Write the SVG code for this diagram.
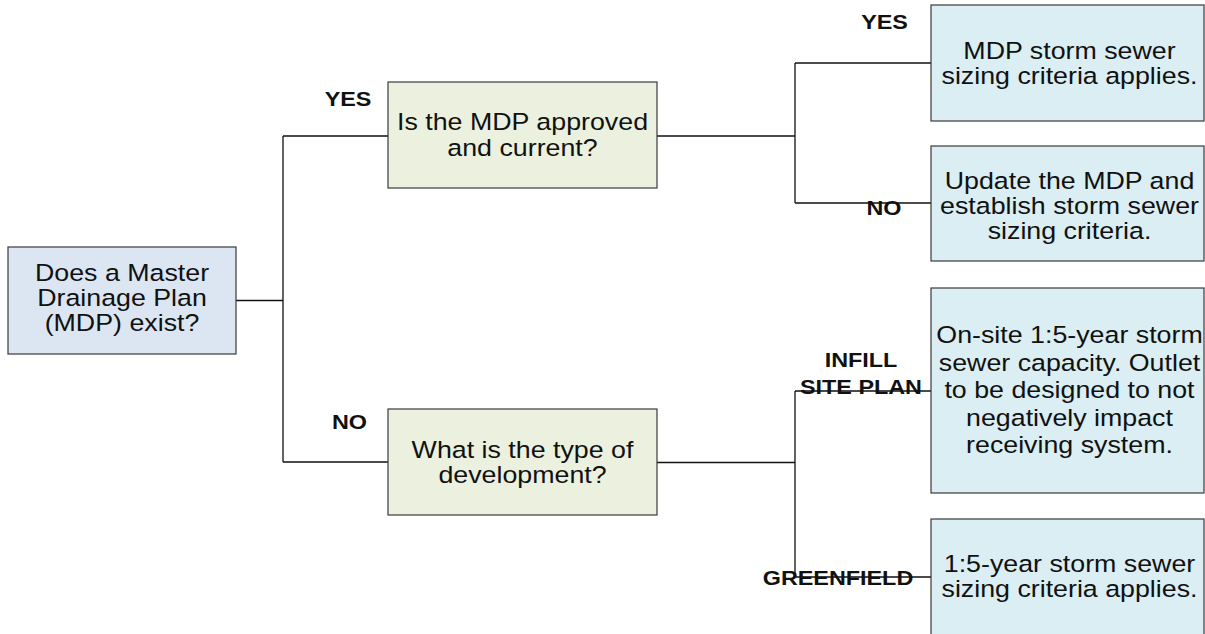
<svg xmlns="http://www.w3.org/2000/svg" width="1205" height="634" viewBox="0 0 1205 634">
<style>
.box{stroke:#3a3a3a;stroke-width:1.2}
.root{fill:#dce6f2}
.q{fill:#ebf1de}
.a{fill:#daeef3}
.t{font-family:"Liberation Sans",Arial,sans-serif;font-size:23.5px;fill:#111;text-anchor:middle}
.l{font-family:"Liberation Sans",Arial,sans-serif;font-size:20.5px;font-weight:bold;fill:#111;text-anchor:middle}
.c{fill:none;stroke:#111;stroke-width:1.3}
</style>
<rect width="1205" height="634" fill="#fff"/>
<g id="connectors">
<path class="c" d="M236 300.5H283M283 136V462M283 136H388M283 462H388"/>
<path class="c" d="M657 136H795M795 63V203M795 63H931M795 203H931"/>
<path class="c" d="M657 462.5H795M795 391V577M795 391H931M795 577H931"/>
</g>
<g id="labels">
<text class="l" transform="translate(348 0) scale(1.14 1)"><tspan x="0" y="106">YES</tspan></text>
<text class="l" transform="translate(349.5 0) scale(1.14 1)"><tspan x="0" y="429">NO</tspan></text>
<text class="l" transform="translate(884.5 0) scale(1.14 1)"><tspan x="0" y="29">YES</tspan></text>
<text class="l" transform="translate(884 0) scale(1.14 1)"><tspan x="0" y="215">NO</tspan></text>
<text class="l" transform="translate(861 0) scale(1.14 1)"><tspan x="0" y="367">INFILL</tspan><tspan x="0" y="394">SITE PLAN</tspan></text>
<text class="l" transform="translate(838 0) scale(1.14 1)"><tspan x="0" y="585">GREENFIELD</tspan></text>
</g>
<g id="n-root">
<rect class="box root" x="8" y="247" width="228" height="107"/>
<text class="t" transform="translate(122 0) scale(1.14 1)"><tspan x="0" y="281">Does a Master</tspan><tspan x="0" y="306">Drainage Plan</tspan><tspan x="0" y="331">(MDP) exist?</tspan></text>
</g>
<g id="n-approved">
<rect class="box q" x="388" y="82" width="269" height="106"/>
<text class="t" transform="translate(522.5 0) scale(1.14 1)"><tspan x="0" y="130">Is the MDP approved</tspan><tspan x="0" y="156">and current?</tspan></text>
</g>
<g id="n-type">
<rect class="box q" x="388" y="409" width="269" height="106"/>
<text class="t" transform="translate(522.5 0) scale(1.14 1)"><tspan x="0" y="458">What is the type of</tspan><tspan x="0" y="483">development?</tspan></text>
</g>
<g id="n-mdp-applies">
<rect class="box a" x="931" y="5" width="273" height="116"/>
<text class="t" transform="translate(1069.5 0) scale(1.14 1)"><tspan x="0" y="59">MDP storm sewer</tspan><tspan x="0" y="84">sizing criteria applies.</tspan></text>
</g>
<g id="n-update">
<rect class="box a" x="931" y="146" width="273" height="115"/>
<text class="t" transform="translate(1069.5 0) scale(1.14 1)"><tspan x="0" y="189">Update the MDP and</tspan><tspan x="0" y="214">establish storm sewer</tspan><tspan x="0" y="239">sizing criteria.</tspan></text>
</g>
<g id="n-infill">
<rect class="box a" x="931" y="288" width="273" height="205"/>
<text class="t" transform="translate(1069.5 0) scale(1.14 1)"><tspan x="0" y="343">On-site 1:5-year storm</tspan><tspan x="0" y="371">sewer capacity. Outlet</tspan><tspan x="0" y="398">to be designed to not</tspan><tspan x="0" y="426">negatively impact</tspan><tspan x="0" y="453">receiving system.</tspan></text>
</g>
<g id="n-greenfield">
<rect class="box a" x="931" y="519" width="273" height="130"/>
<text class="t" transform="translate(1069.5 0) scale(1.14 1)"><tspan x="0" y="572">1:5-year storm sewer</tspan><tspan x="0" y="597">sizing criteria applies.</tspan></text>
</g>
</svg>
